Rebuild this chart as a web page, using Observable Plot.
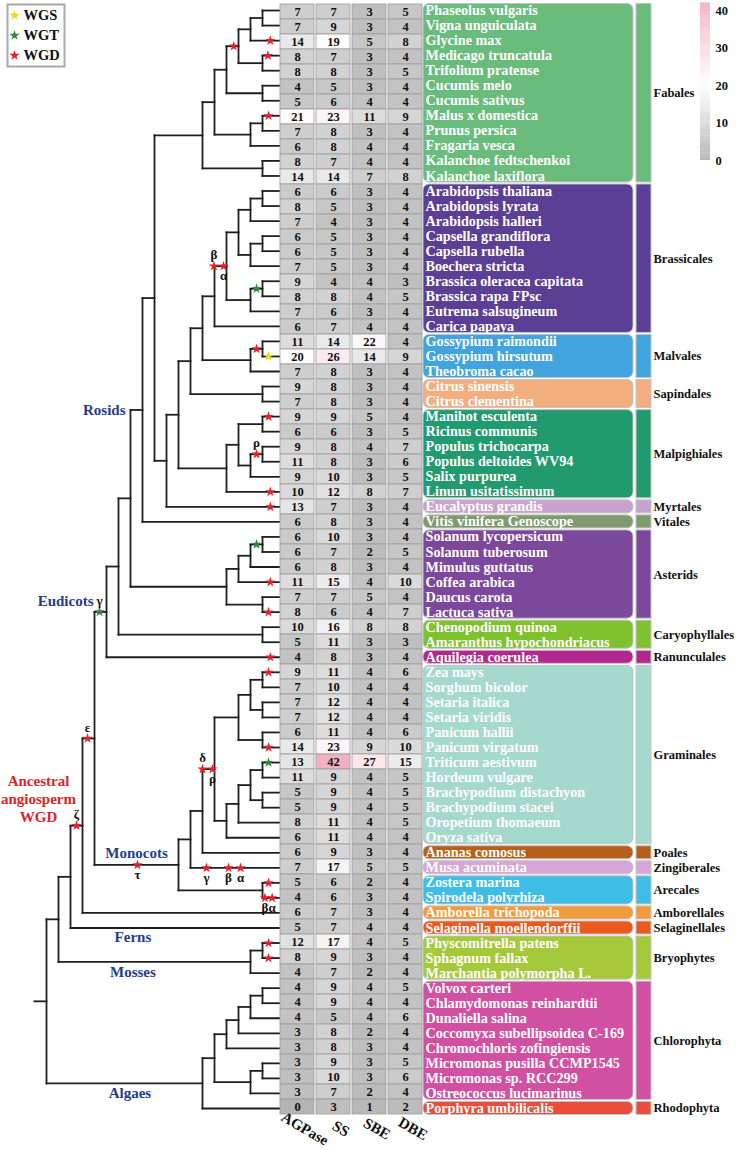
<!DOCTYPE html>
<html><head><meta charset="utf-8">
<script src="https://cdn.jsdelivr.net/npm/d3@7"></script>
<script src="https://cdn.jsdelivr.net/npm/@observablehq/plot@0.6"></script>
<style>
body{margin:0;background:#fff;}
#chart{position:relative;width:738px;height:1150px;display:flex;overflow:hidden;}
#chart > svg{flex:none;}
#chart > .overlay{position:absolute;}
</style></head><body><div id="chart"></div>
<script>
// ---------- data ----------
const species = ["Phaseolus vulgaris","Vigna unguiculata","Glycine max","Medicago truncatula","Trifolium pratense","Cucumis melo","Cucumis sativus","Malus x domestica","Prunus persica","Fragaria vesca","Kalanchoe fedtschenkoi","Kalanchoe laxiflora",
"Arabidopsis thaliana","Arabidopsis lyrata","Arabidopsis halleri","Capsella grandiflora","Capsella rubella","Boechera stricta","Brassica oleracea capitata","Brassica rapa FPsc","Eutrema salsugineum","Carica papaya",
"Gossypium raimondii","Gossypium hirsutum","Theobroma cacao","Citrus sinensis","Citrus clementina",
"Manihot esculenta","Ricinus communis","Populus trichocarpa","Populus deltoides WV94","Salix purpurea","Linum usitatissimum",
"Eucalyptus grandis","Vitis vinifera Genoscope",
"Solanum lycopersicum","Solanum tuberosum","Mimulus guttatus","Coffea arabica","Daucus carota","Lactuca sativa",
"Chenopodium quinoa","Amaranthus hypochondriacus","Aquilegia coerulea",
"Zea mays","Sorghum bicolor","Setaria italica","Setaria viridis","Panicum hallii","Panicum virgatum","Triticum aestivum","Hordeum vulgare","Brachypodium distachyon","Brachypodium stacei","Oropetium thomaeum","Oryza sativa",
"Ananas comosus","Musa acuminata","Zostera marina","Spirodela polyrhiza","Amborella trichopoda","Selaginella moellendorffii",
"Physcomitrella patens","Sphagnum fallax","Marchantia polymorpha L.",
"Volvox carteri","Chlamydomonas reinhardtii","Dunaliella salina","Coccomyxa subellipsoidea C-169","Chromochloris zofingiensis","Micromonas pusilla CCMP1545","Micromonas sp. RCC299","Ostreococcus lucimarinus","Porphyra umbilicalis"];

const genes = ["AGPase","SS","SBE","DBE"];
const agpase = [7,7,14,8,8,4,5,21,7,6,8,14, 6,8,7,6,6,7,9,8,7,6, 11,20,7, 9,7, 9,6,9,11,9,10, 13, 6, 6,6,6,11,7,8, 10,5, 4, 9,7,7,7,6,14,13,11,5,5,8,6, 6, 7, 5,4, 6, 5, 12,8,4, 4,4,4,3,3,3,3,3, 0];
const ss     = [7,9,19,7,8,5,6,23,8,8,7,14, 6,5,4,5,5,5,4,8,6,7, 14,26,8, 8,8, 9,6,8,8,10,12, 7, 8, 10,7,8,15,7,6, 16,11, 8, 11,10,12,12,11,23,42,9,9,9,11,11, 9, 17, 6,6, 7, 7, 17,9,7, 9,9,5,8,8,9,10,7, 3];
const sbe    = [3,3,5,3,3,3,4,11,3,4,4,7, 3,3,3,3,3,3,4,4,3,4, 22,14,3, 3,3, 5,3,4,3,3,8, 3, 3, 3,2,3,4,5,4, 8,3, 3, 4,4,4,4,4,9,27,4,4,4,4,4, 3, 5, 2,3, 3, 4, 4,3,2, 4,4,4,2,3,3,3,2, 1];
const dbe    = [5,4,8,4,5,4,4,9,4,4,4,8, 4,4,4,4,4,4,3,5,4,4, 4,9,4, 4,4, 4,5,7,6,5,7, 4, 4, 4,5,4,10,4,7, 8,3, 4, 6,4,4,4,6,10,15,5,5,5,5,4, 4, 5, 4,4, 4, 4, 5,4,4, 5,4,6,4,4,5,6,4, 2];

const orders = ["Fabales","Brassicales","Malvales","Sapindales","Malpighiales","Myrtales","Vitales","Asterids","Caryophyllales","Ranunculales","Graminales","Poales","Zingiberales","Arecales","Amborellales","Selaginellales","Bryophytes","Chlorophyta","Rhodophyta"];
const orderSizes = [12,10,3,2,6,1,1,6,2,1,12,1,1,2,1,1,3,8,1];
const orderColors = ["#69bc7b","#5b3f95","#41a4de","#f3ae80","#229a6f","#c9a3cf","#7f9a6f","#7b489c","#80c12e","#b3288e","#a6d9cd","#b5601a","#d7a6d8","#3ebde6","#f39a3c","#ea5a1f","#a6c93b","#d150a1","#e94e3d"];

// tree topology (tip = row index, internal label = node depth level)
const fabales = "((((((0,1)18,2)17,(3,4)18)16,(5,6)18)15,((7,8)18,9)17)14,(10,11)18)13";
const brassicales = "(((((12,13)18,14)17,((15,16)18,17)17)16,((18,19)18,20)17)15,21)14";
const malvales = "((22,23)18,24)17";
const malpighiales = "(((27,28)18,((29,30)18,31)17)16,32)15";
const asterids = "((((35,36)18,37)17,38)16,(39,40)18)15";
const grasses = "((((44,45)18,(46,47)18)17,(48,49)18)16,((((50,51)18,(52,53)18)17,54)16,55)15)14";
const monocots = `(((${grasses},56)13,57)12,(58,59)18)11`;
const rosids = `((${fabales},((((${brassicales},${malvales})13,(25,26)18)12,${malpighiales})11,33)10)9,34)8`;
const eudicots = `(((${rosids},${asterids})7,(41,42)18)6,43)5`;
const mosses = "((62,63)18,64)17";
const algae = "((((((65,66)18,67)17,68)16,69)15,((70,71)18,72)17)14,73)13";
const treeNewick = `(((((${eudicots},${monocots})4,60)3,61)2,${mosses})1,${algae})0`;

const eventTypes = ["WGS","WGT","WGD"];
const eventColors = ["#f5d31f","#2b8a3b","#e8202a"];
const events = [
  {type:"WGD", tip:0,  node:16, pos:15.6},
  {type:"WGD", tip:2,  node:null, pos:18.65},
  {type:"WGD", tip:3,  node:null, pos:18.45},
  {type:"WGD", tip:7,  node:null, pos:18.5},
  {type:"WGD", tip:12, node:15, pos:13.95, label:"β", side:"above"},
  {type:"WGD", tip:12, node:15, pos:14.75, label:"α", side:"below"},
  {type:"WGT", tip:18, node:18, pos:17.5},
  {type:"WGD", tip:22, node:18, pos:17.5},
  {type:"WGS", tip:23, node:null, pos:18.5},
  {type:"WGD", tip:27, node:null, pos:18.5},
  {type:"WGD", tip:29, node:18, pos:17.5, label:"ρ", side:"above"},
  {type:"WGD", tip:32, node:null, pos:18.65},
  {type:"WGD", tip:33, node:null, pos:18.65},
  {type:"WGT", tip:35, node:18, pos:17.5},
  {type:"WGD", tip:38, node:null, pos:18.65},
  {type:"WGD", tip:40, node:null, pos:18.5},
  {type:"WGT", tip:35, node:5, pos:4.42, label:"γ", side:"above"},
  {type:"WGD", tip:35, node:4, pos:3.42, label:"ε", side:"above"},
  {type:"WGD", tip:35, node:3, pos:2.5, label:"ζ", side:"above"},
  {type:"WGD", tip:43, node:null, pos:18.65},
  {type:"WGD", tip:44, node:null, pos:18.5},
  {type:"WGD", tip:49, node:null, pos:18.5},
  {type:"WGT", tip:50, node:null, pos:18.5},
  {type:"WGD", tip:44, node:11, pos:7.58, label:"τ", side:"below"},
  {type:"WGD", tip:44, node:14, pos:13.0, label:"δ", side:"above"},
  {type:"WGD", tip:44, node:14, pos:13.83, label:"ρ", side:"below"},
  {type:"WGD", tip:57, node:null, pos:13.33, label:"γ", side:"below"},
  {type:"WGD", tip:57, node:null, pos:15.17, label:"β", side:"below"},
  {type:"WGD", tip:57, node:null, pos:16.17, label:"α", side:"below"},
  {type:"WGD", tip:58, node:null, pos:18.5},
  {type:"WGD", tip:59, node:null, pos:18.2, label:"β", side:"below"},
  {type:"WGD", tip:59, node:null, pos:18.8, label:"α", side:"below"},
  {type:"WGD", tip:62, node:null, pos:18.5},
  {type:"WGD", tip:63, node:null, pos:18.5}
];
const colorbarTicks = [0,10,20,30,40];

// ---------- layout helpers ----------
const tipLevel = 19.5, rootStubLevel = -1;
const H = 1150, MT = 2.5, MB = 34.5;
const serif = "'Liberation Serif','Times New Roman',serif";
const blue = "#1f3d8f";
const heatColor = {type:"linear", domain:[0,20,42], range:["#b4b4b4","#ffffff","#f2b1c3"], clamp:true};
const yRows = {domain:[-0.5, species.length-0.5], reverse:true, axis:null};

function parseNewick(str){
  let i = 0;
  const readLabel = () => { const j = i; while (i < str.length && !",();".includes(str[i])) i++; return str.slice(j,i).trim(); };
  const parse = (parent) => {
    const node = {parent, children:[]};
    if (str[i] === "("){
      i++;
      node.children.push(parse(node));
      while (str[i] === ","){ i++; node.children.push(parse(node)); }
      i++;
      node.level = +readLabel();
    } else { node.tip = +readLabel(); node.level = tipLevel; }
    return node;
  };
  return parse(null);
}
const root = parseNewick(treeNewick);
const allNodes = [];
(function walk(n){ allNodes.push(n); n.children.forEach(walk);
  n.y = n.children.length ? (n.children[0].y + n.children[n.children.length-1].y)/2 : n.tip; })(root);
const tipNode = new Map(allNodes.filter(n => n.tip != null).map(n => [n.tip, n]));
function findNode(tip, level){ let n = tipNode.get(tip); if (level == null) return n; while (n && n.level !== level) n = n.parent; return n; }

const segments = [{x1:rootStubLevel, x2:root.level, y1:root.y, y2:root.y}];
for (const n of allNodes){
  if (n.parent) segments.push({x1:n.parent.level, x2:n.level, y1:n.y, y2:n.y});
  if (n.children.length) segments.push({x1:n.level, x2:n.level, y1:n.children[0].y, y2:n.children[n.children.length-1].y});
}
const stars = events.map(e => { const n = findNode(e.tip, e.node); return {...e, y: n ? n.y : e.tip}; });

const rosidNode = findNode(0, 8), eudicotNode = findNode(0, 5), monocotNode = findNode(44, 11);
const zetaNode = findNode(35, 3), fernNode = tipNode.get(61), mossNode = findNode(62, 17), algaeNode = findNode(65, 13);
const cladeText = (n, text, opts) => Plot.text([n], {y: d => d.y, text: () => text, fontWeight:"bold", fontSize:15, fill:blue, ...opts});

// ---------- tree ----------
const tree = Plot.plot({
  width:280, height:H, marginLeft:34, marginRight:0, marginTop:MT, marginBottom:MB,
  x:{domain:[rootStubLevel, tipLevel], axis:null}, y:yRows, color:{type:"identity"},
  style:{fontFamily:serif, background:"transparent", overflow:"visible"},
  marks:[
    Plot.link(segments, {x1:"x1", x2:"x2", y1:"y1", y2:"y2", stroke:"#1e1e1e", strokeWidth:1.8, strokeLinecap:"square"}),
    Plot.dot(stars, {x:"pos", y:"y", symbol:"star", r:3.2, fill: d => eventColors[eventTypes.indexOf(d.type)]}),
    Plot.text(stars.filter(d => d.side === "above"), {x:"pos", y:"y", text:"label", dy:-11, fontSize:13, fontWeight:"bold", fill:"#111"}),
    Plot.text(stars.filter(d => d.side === "below"), {x:"pos", y:"y", text:"label", dy:10, fontSize:13, fontWeight:"bold", fill:"#111"}),
    cladeText(rosidNode, "Rosids", {x: d => d.parent.level, textAnchor:"end", dx:-5}),
    cladeText(eudicotNode, "Eudicots", {x: d => d.parent.level, textAnchor:"end", dx:-1, dy:-11}),
    cladeText(monocotNode, "Monocots", {x: d => (d.parent.level + d.level)/2, dy:-12}),
    cladeText(fernNode, "Ferns", {x: () => 7.2, dy:9}),
    cladeText(mossNode, "Mosses", {x: () => 7.2, dy:10}),
    cladeText(algaeNode, "Algaes", {x: () => 6.95, dy:10}),
    Plot.text([zetaNode], {x: d => d.parent.level, y: d => d.y, text: () => "Ancestral\nangiosperm\nWGD", dx:-32, dy:-27, lineHeight:1.2, fontSize:15, fontWeight:"bold", fill:"#e11f26"})
  ]
});

// ---------- heatmap ----------
const geneValues = [agpase, ss, sbe, dbe];
const heat = species.flatMap((s, i) => genes.map((g, j) => ({gene:g, row:i, value:geneValues[j][i]})));
const heatmap = Plot.plot({
  width:143, height:H, marginLeft:0, marginRight:1, marginTop:MT, marginBottom:MB,
  x:{type:"band", domain:genes, paddingInner:0.06, paddingOuter:0, axis:null},
  y:{type:"band", domain:d3.range(species.length), padding:0, axis:null},
  color:heatColor,
  style:{fontFamily:serif, background:"transparent", overflow:"visible"},
  marks:[
    Plot.cell(heat, {x:"gene", y:"row", fill:"value", stroke:"#9c9c9c", strokeWidth:0.8}),
    Plot.text(heat, {x:"gene", y:"row", text: d => String(d.value), fontSize:12.5, fontWeight:"bold", fill:"#111"}),
    Plot.text(genes, {x: d => d, text: d => d, frameAnchor:"bottom", dy:17, dx:5, rotate:30, fontSize:15, fontWeight:"bold", fill:"#111"})
  ]
});

// ---------- species labels & orders ----------
let acc = 0;
const groups = orders.map((o, k) => { const g = {order:o, start:acc, end:acc+orderSizes[k]-1, color:orderColors[k]}; acc += orderSizes[k]; return g; });
const speciesRows = species.map((name, i) => ({name, row:i}));

const labels = Plot.plot({
  width:212, height:H, marginLeft:0, marginRight:2, marginTop:MT, marginBottom:MB,
  y:yRows, color:{type:"identity"},
  style:{fontFamily:serif, background:"transparent", overflow:"visible"},
  marks:[
    Plot.rect(groups, {y1: d => d.start-0.5, y2: d => d.end+0.5, fill:"color", insetTop:1, insetBottom:1, rx:6, stroke:"#c4c4c4", strokeWidth:1}),
    Plot.text(speciesRows, {y:"row", text:"name", frameAnchor:"left", textAnchor:"start", dx:2, fill:"white", fontSize:14.2, fontWeight:"bold"})
  ]
});

const orderPlot = Plot.plot({
  width:103, height:H, marginLeft:1, marginRight:87, marginTop:MT, marginBottom:MB,
  y:yRows, color:{type:"identity"},
  style:{fontFamily:serif, background:"transparent", overflow:"visible"},
  marks:[
    Plot.rect(groups, {y1: d => d.start-0.5, y2: d => d.end+0.5, fill:"color", insetTop:1, insetBottom:1, stroke:"#c4c4c4", strokeWidth:1}),
    Plot.text(groups, {y: d => (d.start+d.end)/2, text:"order", frameAnchor:"right", textAnchor:"start", dx:2, fontSize:12.5, fontWeight:"bold", fill:"#111"})
  ]
});

// ---------- colour bar ----------
const step = 0.5;
const colorbar = Plot.plot({
  width:48, height:170, marginLeft:10, marginRight:28, marginTop:2.5, marginBottom:10,
  y:{domain:[0,42]}, color:heatColor,
  style:{fontFamily:serif, background:"transparent", overflow:"visible"},
  marks:[
    Plot.rect(d3.range(0, 42, step), {y1: d => d, y2: d => d + step, fill: d => d + step/2}),
    Plot.axisY({anchor:"right", ticks:colorbarTicks, tickSize:0, tickPadding:5, label:null, fontSize:12.5, fontWeight:"bold", fill:"#111"})
  ]
});
colorbar.classList.add("overlay"); colorbar.style.left = "690px"; colorbar.style.top = "0px";

// ---------- WGS / WGT / WGD legend ----------
const legend = Plot.plot({
  width:70, height:70, marginLeft:7, marginRight:6, marginTop:4, marginBottom:4,
  y:{type:"band", domain:eventTypes, axis:null}, color:{type:"identity"},
  style:{fontFamily:serif, background:"transparent", overflow:"visible"},
  marks:[
    Plot.frame({stroke:"#a8a8a8", strokeWidth:2}),
    Plot.dot(eventTypes, {y: d => d, frameAnchor:"left", dx:7, symbol:"star", r:3.2, fill: (d, i) => eventColors[i]}),
    Plot.text(eventTypes, {y: d => d, text: d => d, frameAnchor:"left", textAnchor:"start", dx:16, fontSize:14.5, fontWeight:"bold", fill:"#111"})
  ]
});
legend.classList.add("overlay"); legend.style.left = "0px"; legend.style.top = "0px";

const chart = document.getElementById("chart");
chart.append(tree, heatmap, labels, orderPlot, colorbar, legend);
</script></body></html>
